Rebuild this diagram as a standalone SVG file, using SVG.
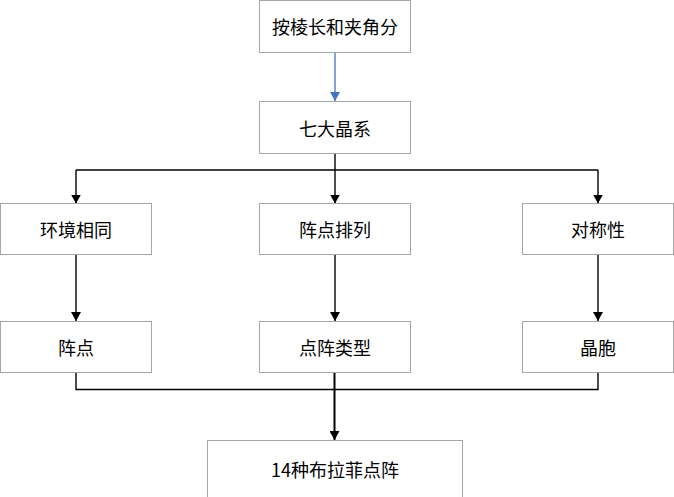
<svg xmlns="http://www.w3.org/2000/svg" width="674" height="497" viewBox="0 0 674 497">
<defs>
<marker id="ah" markerWidth="10" markerHeight="10" refX="9" refY="5" orient="auto" markerUnits="userSpaceOnUse" viewBox="0 0 10 10">
<path d="M0,0 L9,5 L0,10 Z" fill="#000"/>
</marker>
<marker id="ahb" markerWidth="10" markerHeight="10" refX="9" refY="5" orient="auto" markerUnits="userSpaceOnUse" viewBox="0 0 10 10">
<path d="M0,0 L9,5 L0,10 Z" fill="#4472C4"/>
</marker>
</defs>
<style>
.box{fill:#fff;stroke:#a6a6a6;stroke-width:1}
.t{font-family:"Noto Sans CJK SC","Microsoft YaHei",sans-serif;font-size:18px;fill:#000;text-anchor:middle;dominant-baseline:central}
.c{fill:none;stroke:#000;stroke-width:1.4}
</style>
<rect width="674" height="497" fill="#fff"/>
<g id="connectors">
<line x1="335" y1="52.5" x2="335" y2="101" stroke="#4472C4" stroke-width="1.3" marker-end="url(#ahb)"/>
<line class="c" x1="335" y1="153.5" x2="335" y2="170"/>
<line class="c" x1="76" y1="170" x2="598" y2="170"/>
<line class="c" x1="76" y1="170" x2="76" y2="203.5" marker-end="url(#ah)"/>
<line class="c" x1="335" y1="170" x2="335" y2="203.5" marker-end="url(#ah)"/>
<line class="c" x1="598" y1="170" x2="598" y2="203.5" marker-end="url(#ah)"/>
<line class="c" x1="76" y1="254.5" x2="76" y2="321" marker-end="url(#ah)"/>
<line class="c" x1="335" y1="254.5" x2="335" y2="321" marker-end="url(#ah)"/>
<line class="c" x1="598" y1="254.5" x2="598" y2="321" marker-end="url(#ah)"/>
<polyline class="c" points="76,373 76,389.5 598,389.5 598,373"/>
<line x1="334.5" y1="373" x2="334.5" y2="440" stroke="#000" stroke-width="2" marker-end="url(#ah)"/>
</g>
<g id="n1"><rect class="box" x="259.5" y="0.5" width="151" height="52"/><text class="t" x="335" y="26">按棱长和夹角分</text></g>
<g id="n2"><rect class="box" x="259.5" y="101.5" width="151" height="52"/><text class="t" x="335" y="128">七大晶系</text></g>
<g id="n3"><rect class="box" x="0.5" y="203.5" width="151" height="51"/><text class="t" x="76" y="229">环境相同</text></g>
<g id="n4"><rect class="box" x="259.5" y="203.5" width="151" height="51"/><text class="t" x="335" y="229">阵点排列</text></g>
<g id="n5"><rect class="box" x="522.5" y="203.5" width="151" height="51"/><text class="t" x="598" y="229">对称性</text></g>
<g id="n6"><rect class="box" x="0.5" y="321.5" width="151" height="51"/><text class="t" x="76" y="347">阵点</text></g>
<g id="n7"><rect class="box" x="259.5" y="321.5" width="151" height="51"/><text class="t" x="335" y="347">点阵类型</text></g>
<g id="n8"><rect class="box" x="522.5" y="321.5" width="151" height="51"/><text class="t" x="598" y="347">晶胞</text></g>
<g id="n9"><rect class="box" x="207.5" y="440.5" width="255" height="60"/><text class="t" x="335" y="469">14种布拉菲点阵</text></g>
</svg>
